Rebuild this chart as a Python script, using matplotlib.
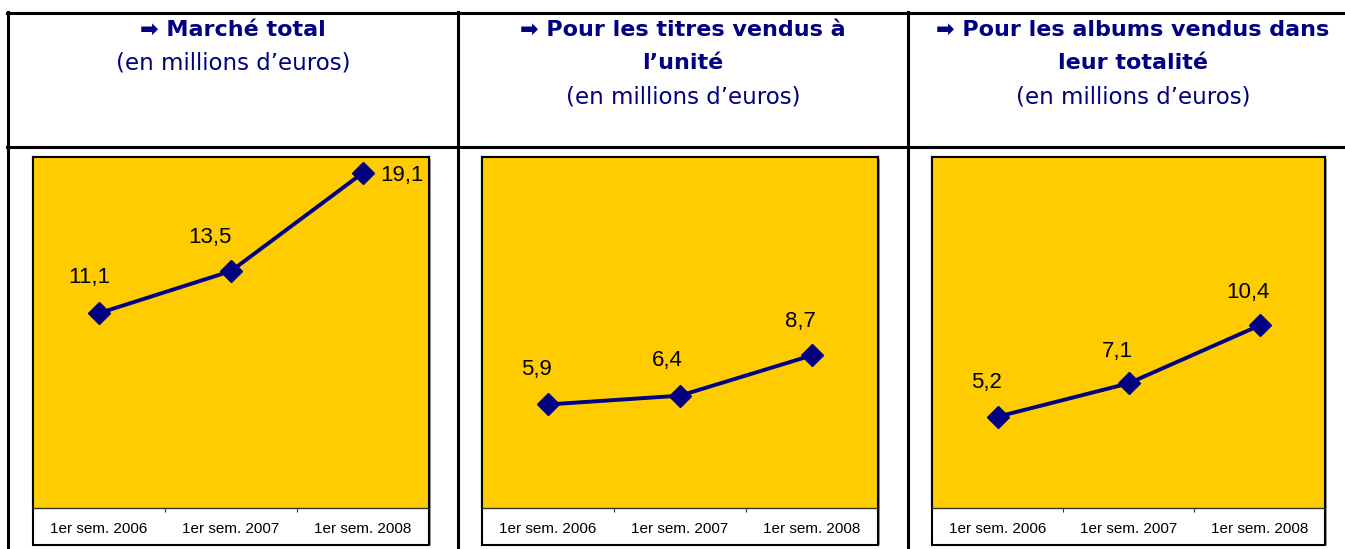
import matplotlib
matplotlib.use("Agg")
import matplotlib.pyplot as plt
from matplotlib.patches import Rectangle
from matplotlib.lines import Line2D

W, H = 1345, 549

categories = ["1er sem. 2006", "1er sem. 2007", "1er sem. 2008"]
marche_total = [11.1, 13.5, 19.1]
titres_unite = [5.9, 6.4, 8.7]
albums_totalite = [5.2, 7.1, 10.4]
value_labels_1 = ["11,1", "13,5", "19,1"]
value_labels_2 = ["5,9", "6,4", "8,7"]
value_labels_3 = ["5,2", "7,1", "10,4"]

titles_bold = [["Marché total"],
               ["Pour les titres vendus à", "l’unité"],
               ["Pour les albums vendus dans", "leur totalité"]]
subtitle = "(en millions d’euros)"

NAVY = "#000080"
YELLOW = "#FFCC00"

fig = plt.figure(figsize=(W / 100, H / 100), dpi=100)
fig.patch.set_facecolor("white")


def fx(x):
    return x / W


def fy(y):
    return 1 - y / H


# table lines
lw_tab = 2.2
fig.add_artist(Line2D([fx(7), fx(1345)], [fy(13), fy(13)], color="black", lw=lw_tab))
fig.add_artist(Line2D([fx(7), fx(1345)], [fy(147), fy(147)], color="black", lw=lw_tab))
for xv in [8, 458, 908]:
    fig.add_artist(Line2D([fx(xv), fx(xv)], [fy(12), fy(549)], color="black", lw=lw_tab))

# titles
cell_centers = [233, 683, 1133]
line_y = [30, 63, 97]
for c, tb in zip(cell_centers, titles_bold):
    for i, t in enumerate(tb):
        txt = ("➡ " + t) if i == 0 else t
        fig.text(fx(c), fy(line_y[i]), txt, ha="center", va="center",
                 fontsize=16, fontweight="bold", color=NAVY,
                 family=["DejaVu Sans"])
    fig.text(fx(c), fy(line_y[len(tb)]), subtitle, ha="center", va="center",
             fontsize=16.5, color=NAVY, family=["DejaVu Sans"])

# label offsets (points) per panel
offsets = [
    [(-7, 26), (-15, 24), (28, -2)],
    [(-8, 25), (-9, 25), (-8, 24)],
    [(-8, 25), (-8, 23), (-8, 24)],
]
panels = [
    (33, 429, marche_total, value_labels_1),
    (482, 878, titres_unite, value_labels_2),
    (932, 1325, albums_totalite, value_labels_3),
]
top, bottom_plot, bottom_chart = 157, 508, 545

for (x0, x1, vals, labs), offs in zip(panels, offsets):
    # shadow
    fig.add_artist(Rectangle((fx(x0 + 2), fy(bottom_chart)), fx(x1 - x0), fy(top + 2) - fy(bottom_chart),
                             facecolor="#999999", edgecolor="none", zorder=-2))
    fig.add_artist(Rectangle((fx(x0), fy(bottom_chart)), fx(x1 - x0), fy(top) - fy(bottom_chart),
                             facecolor="white", edgecolor="black", lw=1.5, zorder=-1))
    ax = fig.add_axes([fx(x0), fy(bottom_plot), fx(x1 - x0), fy(top) - fy(bottom_plot)])
    ax.set_zorder(2)
    ax.set_facecolor(YELLOW)
    ax.set_xlim(-0.5, 2.5)
    ax.set_ylim(0, 20)
    xs = list(range(len(categories)))
    ax.plot(xs, vals, color=NAVY, lw=2.8, marker="D", markersize=11,
            markerfacecolor=NAVY, markeredgecolor=NAVY, clip_on=False)
    for x, v, t, off in zip(xs, vals, labs, offs):
        ax.annotate(t, (x, v), xytext=off, textcoords="offset points",
                    ha="center", va="center", fontsize=16, color="black",
                    family=["Liberation Sans"])
    ax.set_yticks([])
    ax.set_xticks([0.5, 1.5])
    ax.set_xticklabels([])
    ax.set_xticks(xs, minor=True)
    ax.set_xticklabels(categories, minor=True, fontsize=11, family=["Liberation Sans"])
    ax.tick_params(axis="x", which="major", length=3, direction="out", color="#333333")
    ax.tick_params(axis="x", which="minor", length=0, pad=10)
    for s in ["left", "top", "right"]:
        ax.spines[s].set_color("black")
        ax.spines[s].set_linewidth(1.5)
    ax.spines["bottom"].set_color("#333333")
    ax.spines["bottom"].set_linewidth(1.0)

fig.savefig("out.png", dpi=100, facecolor="white")
